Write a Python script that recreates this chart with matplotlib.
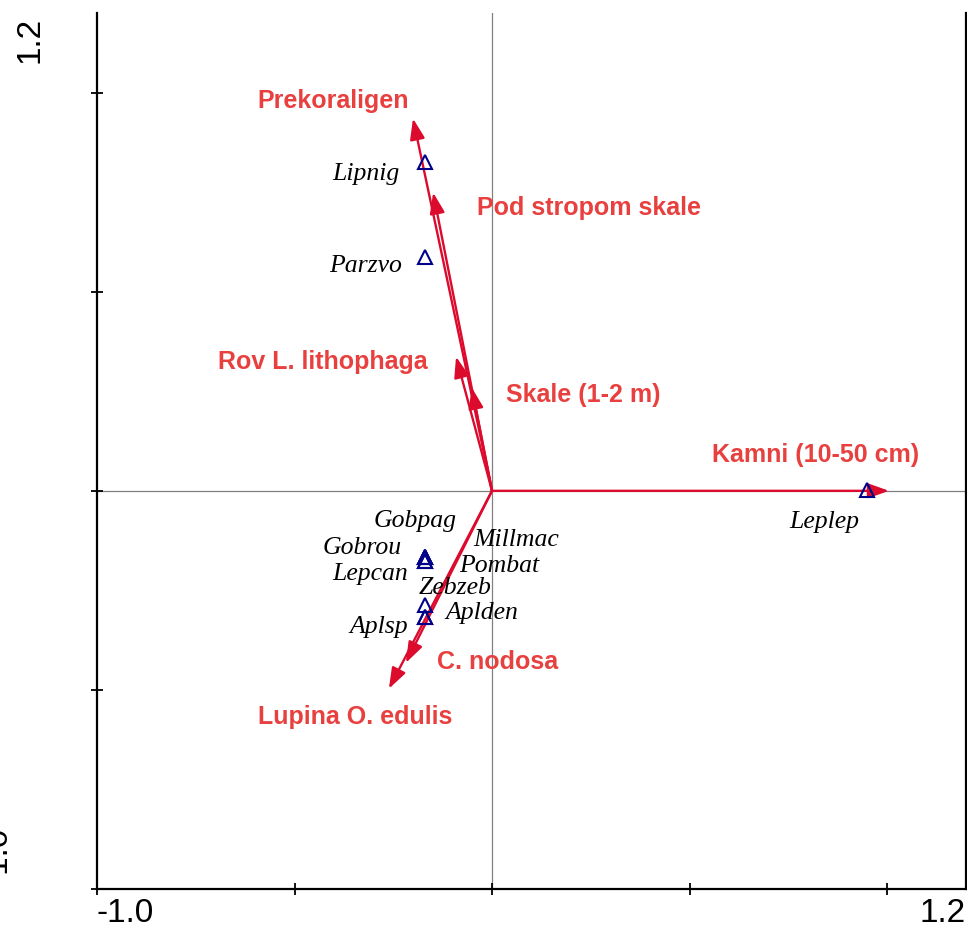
import matplotlib
matplotlib.use("Agg")
import matplotlib.pyplot as plt

# environmental variables (arrows)
env_names = ["Prekoraligen", "Pod stropom skale", "Rov L. lithophaga", "Skale (1-2 m)",
             "Kamni (10-50 cm)", "C. nodosa", "Lupina O. edulis"]
env_x = [-0.200, -0.149, -0.091, -0.051, 1.005, -0.218, -0.261]
env_y = [0.935, 0.749, 0.337, 0.259, 0.0, -0.432, -0.497]

# species (triangles)
sp_names = ["Lipnig", "Parzvo", "Gobpag", "Gobrou", "Lepcan", "Millmac", "Pombat",
            "Zebzeb", "Aplden", "Aplsp", "Leplep"]
sp_x = [-0.170, -0.170, -0.170, -0.170, -0.170, -0.170, -0.170, -0.170, -0.170, -0.170, 0.949]
sp_y = [0.827, 0.588, -0.165, -0.165, -0.175, -0.165, -0.175, -0.288, -0.316, -0.316, 0.002]

# label placement (data coords)
env_lab = [(-0.403, 0.980), (0.246, 0.711), (-0.428, 0.324), (0.230, 0.241),
           (0.820, 0.090), (0.013, -0.430), (-0.347, -0.568)]
sp_lab = [(-0.319, 0.796), (-0.319, 0.565), (-0.195, -0.075), (-0.329, -0.143),
          (-0.309, -0.209), (0.061, -0.123), (0.018, -0.188), (-0.094, -0.244),
          (-0.025, -0.307), (-0.286, -0.342), (0.841, -0.078)]

ARROW = "#DC0A2D"
LABEL = "#E8403F"
TRI = "#00008B"

fig = plt.figure(figsize=(9.67, 9.33), dpi=100)
ax = fig.add_axes([97 / 967, 44 / 933, 869 / 967, 876 / 933])
ax.set_xlim(-1.0, 1.2)
ax.set_ylim(-1.0, 1.2)

ax.axhline(0, color="#808080", lw=0.9, zorder=1)
ax.axvline(0, color="#808080", lw=0.9, zorder=1)

for name, x, y, (lx, ly) in zip(env_names, env_x, env_y, env_lab):
    ax.annotate("", xy=(x, y), xytext=(0, 0),
                arrowprops=dict(arrowstyle="-|>,head_length=0.42,head_width=0.15",
                                color=ARROW, lw=1.7,
                                mutation_scale=30, shrinkA=0, shrinkB=0),
                zorder=3)
    ax.text(lx, ly, name, color=LABEL, fontsize=18, fontweight="bold",
            family="Liberation Sans", ha="center", va="center")

ax.plot(sp_x, sp_y, ls="none", marker="^", ms=10, mfc="none", mec=TRI, mew=1.5, zorder=4)
for name, (lx, ly) in zip(sp_names, sp_lab):
    ax.text(lx, ly, name, fontsize=18.5, style="italic", family="Liberation Serif",
            ha="center", va="center", color="black")

ax.spines["top"].set_visible(False)
for s in ["left", "bottom", "right"]:
    ax.spines[s].set_linewidth(1.6)
ticks = [-1.0, -0.5, 0.0, 0.5, 1.0]
ax.set_xticks(ticks)
ax.set_yticks(ticks)
ax.set_xticklabels([])
ax.set_yticklabels([])
ax.tick_params(direction="inout", length=8, width=1.3, right=False, top=False)

fig.text(97 / 967, 4 / 933, "-1.0", fontsize=24, family="Liberation Sans", ha="left", va="bottom")
fig.text(966 / 967, 4 / 933, "1.2", fontsize=24, family="Liberation Sans", ha="right", va="bottom")
fig.text(30 / 967, 1 - 40 / 933, "1.2", fontsize=24, family="Liberation Sans", rotation=90,
         ha="center", va="center")
fig.text(-2 / 967, 1 - 855 / 933, "-1.0", fontsize=24, family="Liberation Sans", rotation=90,
         ha="center", va="center")

fig.savefig("out.png", dpi=100)
